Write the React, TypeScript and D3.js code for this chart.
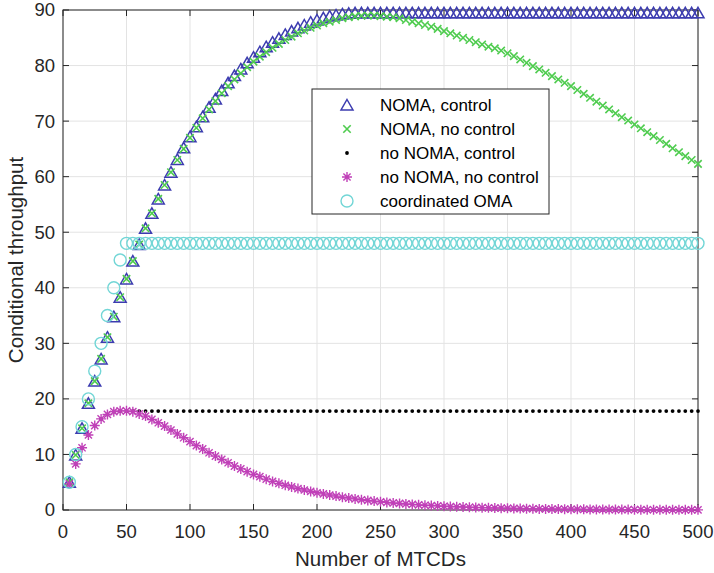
import { useRef, useEffect } from 'react';
import * as d3 from 'd3';

// Number of MTCDs (x) for every sample
const MTCDS = [
  5, 10, 15, 20, 25, 30, 35, 40, 45, 50, 55, 60, 65, 70, 75, 80, 85, 90, 95, 100,
  105, 110, 115, 120, 125, 130, 135, 140, 145, 150, 155, 160, 165, 170, 175, 180, 185, 190, 195, 200,
  205, 210, 215, 220, 225, 230, 235, 240, 245, 250, 255, 260, 265, 270, 275, 280, 285, 290, 295, 300,
  305, 310, 315, 320, 325, 330, 335, 340, 345, 350, 355, 360, 365, 370, 375, 380, 385, 390, 395, 400,
  405, 410, 415, 420, 425, 430, 435, 440, 445, 450, 455, 460, 465, 470, 475, 480, 485, 490, 495, 500
];

const NOMA_CONTROL = [
  5.0, 9.9, 14.7, 19.2, 23.2, 27.2, 31.1, 34.8, 38.3, 41.6, 44.8, 47.8, 50.7, 53.4, 56.0, 58.5, 60.8, 63.1, 65.2, 67.2,
  69.0, 70.8, 72.5, 74.0, 75.5, 76.9, 78.2, 79.4, 80.5, 81.5, 82.5, 83.4, 84.2, 84.9, 85.6, 86.2, 86.8, 87.3, 87.8, 88.2,
  88.6, 88.9, 89.1, 89.3, 89.4, 89.5, 89.5, 89.5, 89.5, 89.5, 89.5, 89.5, 89.5, 89.5, 89.5, 89.5, 89.5, 89.5, 89.5, 89.5,
  89.5, 89.5, 89.5, 89.5, 89.5, 89.5, 89.5, 89.5, 89.5, 89.5, 89.5, 89.5, 89.5, 89.5, 89.5, 89.5, 89.5, 89.5, 89.5, 89.5,
  89.5, 89.5, 89.5, 89.5, 89.5, 89.5, 89.5, 89.5, 89.5, 89.5, 89.5, 89.5, 89.5, 89.5, 89.5, 89.5, 89.5, 89.5, 89.5, 89.5
];

const NOMA_NO_CONTROL = [
  5.0, 9.9, 14.7, 19.2, 23.2, 27.2, 31.1, 34.8, 38.3, 41.6, 44.8, 47.8, 50.7, 53.4, 56.0, 58.5, 60.8, 63.0, 65.0, 67.0,
  68.8, 70.5, 72.1, 73.6, 75.0, 76.3, 77.5, 78.6, 79.7, 80.7, 81.6, 82.4, 83.2, 83.9, 84.6, 85.2, 85.8, 86.3, 86.8, 87.2,
  87.6, 87.9, 88.2, 88.5, 88.7, 88.85, 88.95, 89.0, 89.0, 88.9, 88.8, 88.7, 88.5, 88.2, 87.9, 87.6, 87.3, 87.0, 86.6, 86.2,
  85.8, 85.4, 85.0, 84.6, 84.2, 83.8, 83.4, 83.1, 82.7, 82.2, 81.7, 81.1, 80.5, 79.9, 79.3, 78.7, 78.1, 77.5, 76.9, 76.3,
  75.6, 74.9, 74.2, 73.5, 72.8, 72.1, 71.4, 70.7, 70.1, 69.4, 68.7, 68.0, 67.3, 66.6, 65.9, 65.1, 64.4, 63.7, 63.0, 62.3
];

const NO_NOMA_CONTROL = [
  4.7, 8.3, 11.2, 13.5, 15.2, 16.4, 17.2, 17.7, 17.8, 17.8, 17.8, 17.8, 17.8, 17.8, 17.8, 17.8, 17.8, 17.8, 17.8, 17.8,
  17.8, 17.8, 17.8, 17.8, 17.8, 17.8, 17.8, 17.8, 17.8, 17.8, 17.8, 17.8, 17.8, 17.8, 17.8, 17.8, 17.8, 17.8, 17.8, 17.8,
  17.8, 17.8, 17.8, 17.8, 17.8, 17.8, 17.8, 17.8, 17.8, 17.8, 17.8, 17.8, 17.8, 17.8, 17.8, 17.8, 17.8, 17.8, 17.8, 17.8,
  17.8, 17.8, 17.8, 17.8, 17.8, 17.8, 17.8, 17.8, 17.8, 17.8, 17.8, 17.8, 17.8, 17.8, 17.8, 17.8, 17.8, 17.8, 17.8, 17.8,
  17.8, 17.8, 17.8, 17.8, 17.8, 17.8, 17.8, 17.8, 17.8, 17.8, 17.8, 17.8, 17.8, 17.8, 17.8, 17.8, 17.8, 17.8, 17.8, 17.8
];

const NO_NOMA_NO_CONTROL = [
  4.7, 8.3, 11.2, 13.5, 15.2, 16.4, 17.2, 17.7, 17.85, 17.85, 17.7, 17.3, 16.9, 16.3, 15.7, 15.1, 14.4, 13.7, 13.0, 12.3,
  11.6, 11.0, 10.3, 9.7, 9.1, 8.5, 7.9, 7.4, 6.9, 6.4, 6.0, 5.55, 5.15, 4.8, 4.45, 4.15, 3.85, 3.6, 3.35, 3.1,
  2.9, 2.7, 2.5, 2.3, 2.15, 2.0, 1.85, 1.72, 1.6, 1.48, 1.37, 1.27, 1.18, 1.09, 1.01, 0.93, 0.86, 0.8, 0.74, 0.68,
  0.63, 0.58, 0.54, 0.5, 0.46, 0.42, 0.39, 0.36, 0.33, 0.31, 0.28, 0.26, 0.24, 0.22, 0.2, 0.19, 0.17, 0.16, 0.15, 0.14,
  0.13, 0.12, 0.11, 0.1, 0.09, 0.08, 0.08, 0.07, 0.07, 0.06, 0.06, 0.05, 0.05, 0.04, 0.04, 0.04, 0.03, 0.03, 0.03, 0.03
];

const COORDINATED_OMA = [
  5, 10, 15, 20, 25, 30, 35, 40, 45, 48, 48, 48, 48, 48, 48, 48, 48, 48, 48, 48,
  48, 48, 48, 48, 48, 48, 48, 48, 48, 48, 48, 48, 48, 48, 48, 48, 48, 48, 48, 48,
  48, 48, 48, 48, 48, 48, 48, 48, 48, 48, 48, 48, 48, 48, 48, 48, 48, 48, 48, 48,
  48, 48, 48, 48, 48, 48, 48, 48, 48, 48, 48, 48, 48, 48, 48, 48, 48, 48, 48, 48,
  48, 48, 48, 48, 48, 48, 48, 48, 48, 48, 48, 48, 48, 48, 48, 48, 48, 48, 48, 48
];

const X_TICKS = [0, 50, 100, 150, 200, 250, 300, 350, 400, 450, 500];
const Y_TICKS = [0, 10, 20, 30, 40, 50, 60, 70, 80, 90];

const SERIES = [
  { label: 'NOMA, control', values: NOMA_CONTROL, marker: 'triangle', color: '#3c3cb0' },
  { label: 'NOMA, no control', values: NOMA_NO_CONTROL, marker: 'x', color: '#4fcc4f' },
  { label: 'no NOMA, control', values: NO_NOMA_CONTROL, marker: 'dot', color: '#000000' },
  { label: 'no NOMA, no control', values: NO_NOMA_NO_CONTROL, marker: 'asterisk', color: '#c040b8' },
  { label: 'coordinated OMA', values: COORDINATED_OMA, marker: 'circle', color: '#72d6d6' }
];

const FONT = '"Liberation Sans", Arial, Helvetica, sans-serif';

// draws one marker of the given kind at (cx, cy)
function drawMarker(g, kind, cx, cy, color) {
  if (kind === 'triangle') {
    g.append('path')
      .attr('d', `M${cx},${cy - 5.5}L${cx + 6},${cy + 5}L${cx - 6},${cy + 5}Z`)
      .attr('fill', 'none').attr('stroke', color).attr('stroke-width', 1.5);
  } else if (kind === 'x') {
    const s = 3.7;
    g.append('path')
      .attr('d', `M${cx - s},${cy - s}L${cx + s},${cy + s}M${cx - s},${cy + s}L${cx + s},${cy - s}`)
      .attr('stroke', color).attr('stroke-width', 1.6);
  } else if (kind === 'dot') {
    g.append('circle').attr('cx', cx).attr('cy', cy).attr('r', 1.9).attr('fill', color);
  } else if (kind === 'asterisk') {
    const s = 5, d = 3.6;
    g.append('path')
      .attr('d', `M${cx - s},${cy}L${cx + s},${cy}M${cx},${cy - s}L${cx},${cy + s}` +
        `M${cx - d},${cy - d}L${cx + d},${cy + d}M${cx - d},${cy + d}L${cx + d},${cy - d}`)
      .attr('stroke', color).attr('stroke-width', 1.4);
  } else {
    g.append('circle').attr('cx', cx).attr('cy', cy).attr('r', 6)
      .attr('fill', 'none').attr('stroke', color).attr('stroke-width', 1.4);
  }
}

function ThroughputChart() {
  const svgRef = useRef(null);

  useEffect(() => {
    document.body.style.margin = '0';
    const svg = d3.select(svgRef.current);
    svg.selectAll('*').remove();

    const left = 63, right = 698, top = 10, bottom = 510;
    const x = d3.scaleLinear().domain([0, 500]).range([left, right]);
    const y = d3.scaleLinear().domain([0, 90]).range([bottom, top]);

    svg.append('rect').attr('width', 714).attr('height', 573).attr('fill', '#fff');

    // Grid
    const grid = svg.append('g').attr('stroke', '#e3e3e3').attr('stroke-width', 1);
    grid.selectAll('.gx').data(X_TICKS).enter().append('line')
      .attr('x1', d => x(d)).attr('x2', d => x(d)).attr('y1', top).attr('y2', bottom);
    grid.selectAll('.gy').data(Y_TICKS).enter().append('line')
      .attr('y1', d => y(d)).attr('y2', d => y(d)).attr('x1', left).attr('x2', right);

    // Box and inward ticks
    const axis = svg.append('g').attr('stroke', '#262626').attr('stroke-width', 1);
    axis.append('rect').attr('x', left).attr('y', top)
      .attr('width', right - left).attr('height', bottom - top).attr('fill', 'none');
    X_TICKS.forEach(t => {
      axis.append('line').attr('x1', x(t)).attr('x2', x(t)).attr('y1', bottom).attr('y2', bottom - 6);
      axis.append('line').attr('x1', x(t)).attr('x2', x(t)).attr('y1', top).attr('y2', top + 6);
    });
    Y_TICKS.forEach(t => {
      axis.append('line').attr('y1', y(t)).attr('y2', y(t)).attr('x1', left).attr('x2', left + 6);
      axis.append('line').attr('y1', y(t)).attr('y2', y(t)).attr('x1', right).attr('x2', right - 6);
    });

    // Tick labels
    svg.selectAll('.xt').data(X_TICKS).enter().append('text')
      .attr('x', d => x(d)).attr('y', bottom + 28)
      .attr('text-anchor', 'middle').style('font-family', FONT).style('font-size', '18.5px')
      .attr('fill', '#262626').text(d => d);
    svg.selectAll('.yt').data(Y_TICKS).enter().append('text')
      .attr('x', left - 8).attr('y', d => y(d)).attr('dy', '0.35em')
      .attr('text-anchor', 'end').style('font-family', FONT).style('font-size', '18.5px')
      .attr('fill', '#262626').text(d => d);

    // Axis labels
    svg.append('text').attr('x', (left + right) / 2).attr('y', 566)
      .attr('text-anchor', 'middle').style('font-family', FONT).style('font-size', '20.5px')
      .attr('fill', '#262626').text('Number of MTCDs');
    svg.append('text').attr('transform', `translate(23,${(top + bottom) / 2}) rotate(-90)`)
      .attr('text-anchor', 'middle').style('font-family', FONT).style('font-size', '20.5px')
      .attr('fill', '#262626').text('Conditional throughput');

    // Markers
    SERIES.forEach(s => {
      const g = svg.append('g');
      s.values.forEach((v, i) => drawMarker(g, s.marker, x(MTCDS[i]), y(v), s.color));
    });

    // Legend
    const legend = svg.append('g');
    legend.append('rect').attr('x', 312).attr('y', 89).attr('width', 237).attr('height', 125)
      .attr('fill', '#fff').attr('stroke', '#262626').attr('stroke-width', 1);
    SERIES.forEach((s, i) => {
      const ly = 105 + i * 24;
      drawMarker(legend, s.marker, 347, ly, s.color);
      legend.append('text').attr('x', 380).attr('y', ly).attr('dy', '0.35em')
        .style('font-family', FONT).style('font-size', '17px').attr('fill', '#000')
        .text(s.label);
    });
  }, []);

  return <svg ref={svgRef} width={714} height={573} style={{ display: 'block' }}></svg>;
}

export default function App() {
  return <ThroughputChart />;
}
